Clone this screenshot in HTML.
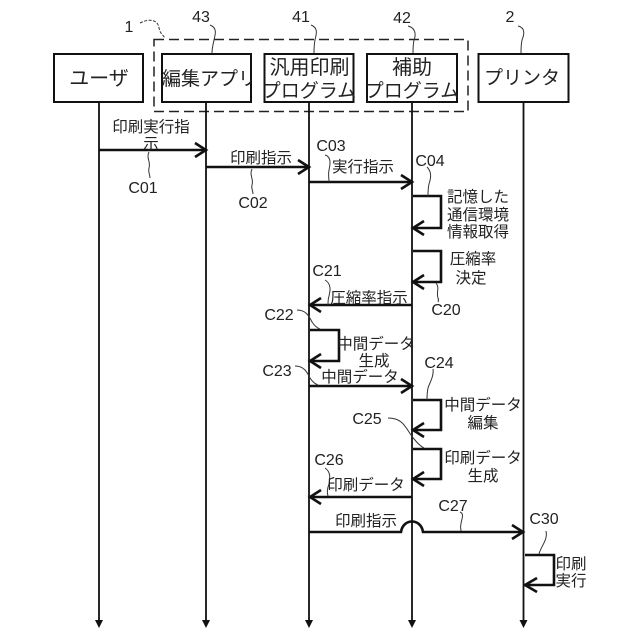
<!DOCTYPE html>
<html><head><meta charset="utf-8"><style>
html,body{margin:0;padding:0;background:#fff}
svg{display:block}
text{font-family:"Liberation Sans","Noto Sans CJK JP",sans-serif;fill:#222;text-anchor:middle}
.j{font-size:15.500px}
.b{font-size:20px}
.c{font-size:16px}
.t{fill:none;stroke:#111;stroke-width:2.600}
.h{fill:none;stroke:#111;stroke-width:2.600}
.l{fill:none;stroke:#111;stroke-width:1.800}
.w{fill:none;stroke:#333;stroke-width:1}
</style></head><body>
<svg width="640" height="640" viewBox="0 0 640 640" xmlns="http://www.w3.org/2000/svg">
<rect x="154" y="39.500" width="314" height="72" fill="none" stroke="#222" stroke-width="1.500" stroke-dasharray="10 5"/>
<g class="l">
<path d="M99 102V622M206 102V622M309 102V622M412 102V622M523.500 102V622"/>
</g>
<g fill="#111">
<path d="M95 620h8l-4 8zM202 620h8l-4 8zM305 620h8l-4 8zM408 620h8l-4 8zM519.500 620h8l-4 8z"/>
</g>
<g fill="#fff" stroke="#111" stroke-width="2">
<rect x="54" y="54" width="89" height="48"/>
<rect x="162" y="54" width="89" height="48"/>
<rect x="264.500" y="54" width="89" height="48"/>
<rect x="367" y="54" width="90" height="48"/>
<rect x="478.500" y="54" width="90" height="48"/>
</g>
<text class="b" x="99" y="85">ユーザ</text>
<svg x="162" y="55" width="89" height="46"><text x="47.500" y="30" style="font-size:19px">編集アプリ</text></svg>
<text class="b" x="309.500" y="74">汎用印刷</text>
<text x="309" y="97" style="font-size:19px">プログラム</text>
<text class="b" x="412" y="74">補助</text>
<text x="412" y="97" style="font-size:19px">プログラム</text>
<text x="522" y="84" style="font-size:19px">プリンタ</text>
<g class="t">
<path d="M99 150H205"/>
<path d="M206 167H308"/>
<path d="M309 182H411"/>
<path d="M413 196H441V228H414"/>
<path d="M413 251H441V282H414"/>
<path d="M412 305H311"/>
<path d="M310 330H339V361H311"/>
<path d="M309 386H411"/>
<path d="M413 400H441V430H414"/>
<path d="M413 449H441V479H414"/>
<path d="M412 497H311"/>
<path d="M309 532H401C403 518 421 518 423 532H522"/>
<path d="M525 555H554V585H526"/>
</g>
<g class="h">
<path d="M195 143L206 150L195 157"/>
<path d="M298 160L309 167L298 174"/>
<path d="M401 175L412 182L401 189"/>
<path d="M424 221L413 228L424 235"/>
<path d="M424 275L413 282L424 289"/>
<path d="M321 298L310 305L321 312"/>
<path d="M321 354L310 361L321 368"/>
<path d="M401 379L412 386L401 393"/>
<path d="M424 423L413 430L424 437"/>
<path d="M424 472L413 479L424 486"/>
<path d="M321 490L310 497L321 504"/>
<path d="M512 525L523 532L512 539"/>
<path d="M537 578L525 585L537 592"/>
</g>
<g class="w">
<path d="M140 23C150 18 158 20 159 28C160 33 162 34 165 38" stroke-dasharray="3 1.500"/>
<path d="M210 25C218 28 215 35 214 40C213 45 212 48 212 53"/>
<path d="M311 25C319 28 316 35 315 40C314 45 314 48 314 53"/>
<path d="M408 26C416 28 416 35 414 40C413 45 413 48 413 53"/>
<path d="M518 26C526 28 524 35 522 40C521 45 521 48 521 53"/>
<path d="M149 152C146 158 151 162 149 168C148 172 150 175 150 178"/>
<path d="M252 169C249 175 254 179 252 185C251 188 253 191 253 194"/>
<path d="M325 155C332 157 330 165 329 170C328 175 329 178 329 182"/>
<path d="M427 167C432 172 431 178 429 184C428 188 428 192 428 196"/>
<path d="M436 283C440 288 436 292 438 298C439 300 438 302 438 302"/>
<path d="M325 280C332 284 330 292 329 296C328 299 328 303 328 305"/>
<path d="M297 310C306 310 309 316 312 322C314 325 317 328 320 329"/>
<path d="M295 366C304 366 307 372 310 378C312 381 315 384 318 385"/>
<path d="M433 369C434 376 430 382 428 388C427 393 427 397 427 400"/>
<path d="M388 418C400 418 404 424 409 432C414 440 420 446 424 448"/>
<path d="M325 468C331 472 330 478 329 484C327 489 327 493 328 496"/>
<path d="M460 512C465 514 461 520 461 524C460 527 461 529 461 531"/>
<path d="M546 531C548 540 541 546 539 554"/>
</g>
<g class="c">
<text x="129" y="32">1</text>
<text x="201" y="22">43</text>
<text x="301" y="22">41</text>
<text x="402" y="23">42</text>
<text x="510" y="22">2</text>
<text x="143" y="193">C01</text>
<text x="253" y="208">C02</text>
<text x="331" y="151">C03</text>
<text x="430" y="166">C04</text>
<text x="446" y="315">C20</text>
<text x="327" y="276">C21</text>
<text x="279" y="320">C22</text>
<text x="277" y="376">C23</text>
<text x="439" y="368">C24</text>
<text x="367" y="424">C25</text>
<text x="329" y="465">C26</text>
<text x="453" y="511">C27</text>
<text x="544" y="524">C30</text>
</g>
<g class="j">
<text x="151" y="132">印刷実行指</text>
<text x="151" y="149">示</text>
<text x="261" y="163">印刷指示</text>
<text x="363" y="172">実行指示</text>
<text x="478" y="202">記憶した</text>
<text x="478" y="220">通信環境</text>
<text x="478" y="237">情報取得</text>
<text x="473" y="264">圧縮率</text>
<text x="471" y="283">決定</text>
<text x="369" y="303">圧縮率指示</text>
<text x="376" y="349">中間データ</text>
<text x="374" y="366">生成</text>
<text x="360" y="382">中間データ</text>
<text x="483" y="410">中間データ</text>
<text x="483" y="428">編集</text>
<text x="483" y="463">印刷データ</text>
<text x="483" y="481">生成</text>
<text x="366" y="490">印刷データ</text>
<text x="366" y="526">印刷指示</text>
<text x="571" y="569">印刷</text>
<text x="571" y="586">実行</text>
</g>
</svg>
</body></html>
